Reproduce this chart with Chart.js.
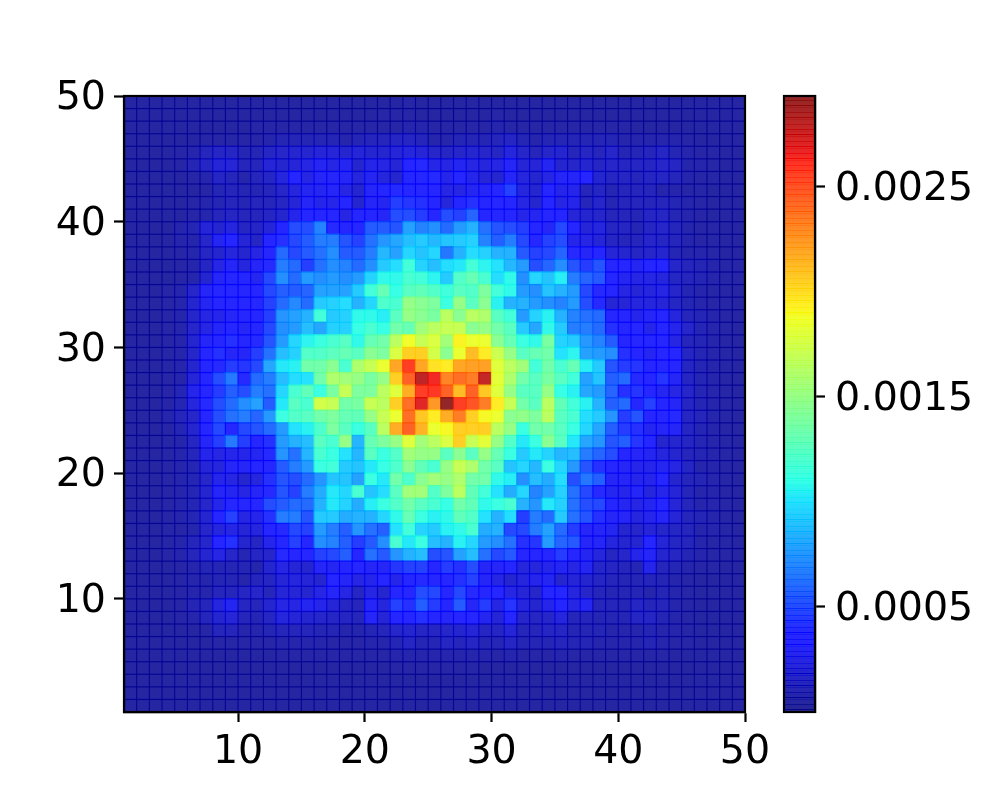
<!DOCTYPE html>
<html>
<head>
<meta charset="utf-8">
<title>Heatmap</title>
<script src="https://cdn.jsdelivr.net/npm/chart.js@4"></script>
<style>
body { margin: 0; background: #fff; }
canvas { position: absolute; left: 0; top: 0; }
</style>
</head>
<body>
<canvas id="heat" width="1000" height="800"></canvas>
<canvas id="bar" width="1000" height="800"></canvas>
<script>
const xTicks = [10, 20, 30, 40, 50];
const yTicks = [10, 20, 30, 40, 50];
const barTicks = [0.0005, 0.0015, 0.0025];
const barRange = [0, 0.00293];
const unit = 0.00001;

// cell values, in units of 1e-5, top row first
const cellRows = [
  [5,5,5,5,5,5,5,5,5,5,5,5,5,5,5,5,5,5,5,5,5,5,6,5,5,5,5,5,5,5,5,5,5,5,5,5,5,5,5,5,5,5,5,5,5,5,5,5,5],
  [5,5,5,5,5,5,5,5,5,5,5,5,5,5,5,5,5,5,5,5,6,6,6,5,5,5,5,5,5,6,5,5,5,5,5,5,5,5,5,5,5,5,5,5,5,5,5,5,5],
  [5,5,5,5,5,5,5,5,5,5,6,6,6,6,6,6,6,6,6,6,6,6,8,8,6,6,6,6,6,8,6,6,6,6,6,6,6,6,6,6,5,5,5,5,5,5,5,5,5],
  [5,5,5,5,5,5,6,6,6,6,6,8,10,10,10,10,10,8,10,12,12,14,14,12,8,8,10,10,10,12,14,10,8,10,10,10,10,10,10,8,8,8,8,8,6,5,5,5,5],
  [5,5,5,5,6,8,12,15,14,10,10,14,16,18,18,20,20,18,20,18,18,20,22,20,16,14,16,18,16,14,22,16,12,16,18,12,14,12,16,10,10,12,14,10,8,6,6,5,5],
  [5,5,5,5,6,10,15,20,20,12,12,20,18,20,24,28,24,28,18,25,24,20,36,38,25,24,28,24,22,24,30,20,20,28,18,16,18,14,16,14,14,14,16,14,8,8,6,5,5],
  [5,5,5,5,5,6,8,15,12,8,12,15,22,32,24,30,30,30,22,28,22,18,32,34,38,26,34,26,20,18,30,22,18,24,30,30,34,18,14,14,12,14,14,12,8,6,6,5,5],
  [5,5,5,5,5,5,6,10,12,10,10,12,16,22,28,28,30,24,18,30,36,38,32,32,36,24,24,28,30,36,46,22,18,34,26,26,12,14,10,12,12,12,8,8,6,6,5,5,5],
  [5,5,5,5,5,6,8,10,12,10,12,12,14,20,30,26,26,32,18,30,28,45,42,40,34,22,32,40,36,34,36,24,18,34,24,26,12,16,10,12,12,12,12,10,8,6,5,5,5],
  [5,5,5,5,5,6,8,12,14,12,12,14,18,26,34,36,34,24,32,32,30,50,50,44,36,50,46,58,36,34,32,26,28,32,32,20,18,16,12,12,10,14,14,10,8,6,5,5,5],
  [5,5,5,5,8,10,20,18,22,14,15,20,36,50,50,68,38,36,36,55,55,52,78,68,72,60,76,84,62,52,50,45,32,30,48,32,20,22,14,14,10,14,16,12,8,6,6,5,5],
  [5,5,5,5,8,8,16,28,34,20,15,32,40,48,55,66,66,52,46,62,74,80,88,92,86,90,92,94,68,56,66,48,32,46,50,26,24,20,14,12,12,16,14,12,8,6,6,5,5],
  [5,5,5,5,6,8,14,18,22,18,24,34,60,48,55,62,72,55,55,66,86,78,96,90,96,64,84,98,94,84,84,54,46,48,58,38,30,32,20,18,14,16,18,10,8,8,6,5,5],
  [5,5,5,5,6,8,14,24,30,22,30,38,66,60,45,62,72,68,60,72,92,98,115,95,88,98,102,116,106,100,86,76,50,58,72,52,44,52,36,34,28,34,34,16,12,10,8,6,6],
  [5,5,5,5,6,8,18,30,34,36,28,48,72,60,76,72,76,72,76,95,108,108,118,115,106,92,122,130,118,98,108,72,96,90,104,66,58,54,32,28,24,24,22,14,12,10,8,6,6],
  [5,5,5,6,8,16,30,36,34,36,34,48,56,55,58,78,78,78,92,115,130,110,125,128,122,114,125,122,140,115,108,76,72,90,84,76,48,38,32,24,20,22,24,16,10,8,6,6,5],
  [5,5,5,6,8,18,28,36,32,32,32,46,60,70,60,92,94,98,84,96,120,118,150,145,140,112,150,125,145,105,84,84,76,72,68,76,50,38,20,20,22,22,20,14,10,8,6,6,5],
  [5,5,5,6,8,16,24,26,30,32,35,45,74,78,84,115,92,94,108,108,104,125,150,145,138,165,145,165,160,125,115,76,95,105,84,68,62,60,32,36,26,30,32,22,12,10,8,6,5],
  [5,5,5,6,8,16,24,30,34,30,36,48,72,76,88,80,94,94,110,118,110,135,130,155,165,170,170,145,150,135,125,92,80,108,92,66,66,60,40,36,34,26,36,26,16,10,8,6,5],
  [5,5,5,6,8,18,30,36,40,36,38,52,76,96,106,112,118,124,108,130,135,165,188,170,178,155,192,185,185,145,130,112,108,138,95,92,75,68,55,36,34,36,34,24,12,10,8,6,5],
  [5,5,5,6,8,16,34,40,30,30,45,62,88,94,122,122,126,130,125,145,140,178,205,205,175,145,185,212,195,172,150,125,130,135,100,106,78,76,72,40,36,28,32,32,14,10,8,6,5],
  [5,5,5,6,8,18,34,38,44,42,48,80,102,105,135,135,145,118,160,170,185,220,258,220,198,195,220,222,222,180,165,155,115,135,118,130,105,92,52,44,42,36,32,34,14,10,8,6,5],
  [5,5,5,6,8,20,36,50,65,38,60,66,88,98,100,135,160,155,150,138,150,205,245,280,265,232,240,235,278,182,160,135,125,138,125,115,78,90,56,60,38,36,42,30,14,10,8,6,5],
  [5,5,5,6,10,26,36,44,56,50,66,62,96,118,128,112,138,170,140,140,165,180,218,258,260,245,212,245,208,180,150,125,125,150,110,105,80,76,58,40,42,34,28,24,16,10,8,6,5],
  [5,5,5,6,10,22,38,50,60,72,78,55,102,125,118,175,170,135,138,170,165,205,240,270,225,293,258,250,235,195,170,135,125,165,128,115,105,84,56,60,34,46,36,30,14,10,8,6,5],
  [5,5,5,8,12,16,34,50,62,66,58,75,112,122,125,135,140,130,128,150,170,185,240,208,195,218,235,205,190,185,145,148,140,165,125,118,98,92,74,44,52,32,34,38,14,12,8,6,5],
  [5,5,5,6,10,18,36,48,34,48,52,60,76,100,105,120,140,125,112,125,165,218,245,215,185,190,205,205,205,165,150,112,135,135,125,112,96,80,56,44,40,28,30,30,14,10,8,6,5],
  [5,5,5,6,8,14,30,45,65,45,34,40,76,84,88,125,118,150,85,130,140,150,180,155,165,178,205,170,182,150,122,102,112,145,125,102,80,74,52,56,42,36,18,18,14,10,8,6,5],
  [5,5,5,6,8,12,26,24,26,26,28,38,74,62,85,118,112,100,85,125,112,122,155,150,150,125,145,125,150,130,112,92,102,95,85,88,66,58,50,36,30,28,22,18,12,10,8,6,5],
  [5,5,5,6,8,10,20,22,30,30,34,34,55,66,76,112,115,92,90,102,110,120,145,128,118,150,170,160,135,125,90,96,86,112,96,75,52,40,32,30,26,26,28,24,14,8,8,6,5],
  [5,5,5,6,8,10,16,26,24,18,22,40,52,50,60,74,90,90,78,112,102,135,120,145,155,150,160,135,135,108,104,72,88,82,98,50,64,56,30,30,26,26,34,18,12,10,8,6,5],
  [5,5,5,6,8,10,18,30,28,24,30,38,52,46,66,82,102,96,118,90,98,125,155,155,122,140,165,128,115,100,82,96,68,78,94,62,48,38,28,26,30,22,26,20,12,8,8,6,5],
  [5,5,5,6,8,10,16,26,34,32,36,50,55,60,60,84,102,95,82,104,112,122,135,125,118,110,135,128,108,112,118,84,74,102,94,62,50,48,32,28,24,28,34,20,12,8,8,6,5],
  [5,5,5,6,8,10,18,34,46,24,26,40,66,66,52,92,92,82,84,84,96,108,130,112,105,108,128,122,100,84,98,44,66,60,92,62,52,40,30,30,22,26,30,20,12,10,8,6,5],
  [5,5,5,6,6,8,16,22,24,20,22,32,38,48,46,76,66,56,74,62,56,100,115,95,92,105,108,118,82,84,48,48,66,78,60,44,30,30,28,18,16,20,16,14,12,8,8,6,5],
  [5,5,5,6,8,12,16,34,40,18,14,26,32,46,36,72,68,56,44,54,72,118,102,112,88,84,105,96,76,72,62,40,42,76,58,54,30,30,22,18,18,32,20,14,12,8,6,6,5],
  [5,5,5,6,8,12,18,24,16,10,14,16,38,32,34,46,48,56,36,62,54,74,84,88,50,52,78,88,62,48,54,32,32,36,44,32,28,22,14,16,26,30,18,14,10,8,6,6,5],
  [5,5,5,5,6,8,10,10,10,10,8,18,24,20,18,30,28,34,32,30,30,42,46,46,34,44,40,50,30,30,34,22,22,26,28,24,28,16,14,12,10,26,12,10,8,6,6,5,5],
  [5,5,5,5,6,8,8,10,10,8,12,14,20,22,20,18,32,30,24,26,34,26,32,38,36,36,40,46,30,24,18,22,26,28,18,20,18,14,12,10,10,12,10,8,6,5,5,5,5],
  [5,5,5,5,6,8,8,12,12,14,16,12,20,20,18,24,30,24,14,24,18,34,36,50,48,34,48,38,32,34,24,20,16,34,32,22,16,12,10,10,10,8,10,8,6,5,5,5,5],
  [5,5,5,5,6,10,12,22,28,14,12,18,24,24,28,26,20,14,12,30,22,46,40,56,44,36,55,30,44,24,42,22,18,26,32,24,28,12,12,10,14,12,12,8,6,5,5,5,5],
  [5,5,5,5,6,8,12,18,20,12,10,14,22,20,18,16,15,14,12,30,20,34,36,40,36,30,32,34,28,20,34,16,14,16,22,12,12,10,10,10,14,14,10,8,6,5,5,5,5],
  [5,5,5,5,5,5,6,12,12,8,8,10,12,12,12,10,10,8,8,10,12,16,18,15,14,16,18,20,14,14,20,12,12,14,14,10,10,10,8,8,8,10,8,8,6,5,5,5,5],
  [5,5,5,5,5,5,5,6,6,6,6,6,8,8,8,8,6,6,6,8,8,10,14,10,10,14,12,14,10,10,14,10,10,10,12,10,10,8,8,8,8,10,8,6,6,5,5,5,5],
  [5,5,5,5,5,5,5,5,5,5,5,5,6,6,6,6,6,6,6,6,6,8,8,8,8,8,8,8,8,6,8,6,6,6,8,6,6,6,6,6,6,6,6,5,5,5,5,5,5],
  [5,5,5,5,5,5,5,5,5,5,5,5,5,5,5,5,5,5,5,5,5,6,6,6,6,6,6,6,5,5,5,5,5,5,5,5,5,5,5,5,5,5,5,5,5,5,5,5,5],
  [5,5,5,5,5,5,5,5,5,5,5,5,5,5,5,5,5,5,5,5,5,5,5,5,5,5,5,5,5,5,5,5,5,5,5,5,5,5,5,5,5,5,5,5,5,5,5,5,5],
  [5,5,5,5,5,5,5,5,5,5,5,5,5,5,5,5,5,5,5,5,5,5,5,5,5,5,5,5,5,5,5,5,5,5,5,5,5,5,5,5,5,5,5,5,5,5,5,5,5],
  [5,5,5,5,5,5,5,5,5,5,5,5,5,5,5,5,5,5,5,5,5,5,5,5,5,5,5,5,5,5,5,5,5,5,5,5,5,5,5,5,5,5,5,5,5,5,5,5,5]
];

const ALPHA = 0.85;
const tickFont = { family: "'DejaVu Sans'", size: 39.5 };

// jet colormap, same breakpoints as matplotlib
const jetR = [[0, 0], [0.35, 0], [0.66, 1], [0.89, 1], [1, 0.5]];
const jetG = [[0, 0], [0.125, 0], [0.375, 1], [0.64, 1], [0.91, 0], [1, 0]];
const jetB = [[0, 0.5], [0.11, 1], [0.34, 1], [0.65, 0], [1, 0]];

function channel(stops, t) {
    for (let i = 1; i < stops.length; i++) {
        if (t <= stops[i][0]) {
            let a = stops[i - 1], b = stops[i];
            return Math.round(255 * (a[1] + (b[1] - a[1]) * (t - a[0]) / (b[0] - a[0])));
        }
    }
    return Math.round(255 * stops[stops.length - 1][1]);
}

function jet(t, alpha) {
    t = Math.min(1, Math.max(0, t));
    return `rgba(${channel(jetR, t)},${channel(jetG, t)},${channel(jetB, t)},${alpha})`;
}

// spines on all four sides
const framePlugin = {
    id: 'frame',
    afterDraw(chart) {
        let a = chart.chartArea, ctx = chart.ctx;
        ctx.save();
        ctx.strokeStyle = '#000';
        ctx.lineWidth = 2.2;
        ctx.strokeRect(a.left, a.top, a.right - a.left, a.bottom - a.top);
        ctx.restore();
    }
};

function axisGrid() {
    return { drawOnChartArea: false, drawTicks: true, tickLength: 10, tickWidth: 2.2, tickColor: '#000' };
}

// HEATMAP
let points = [], colors = [];
cellRows.forEach((row, r) => {
    row.forEach((v, c) => {
        points.push({ x: c + 1.5, y: 49.5 - r });
        colors.push(jet(v * unit / barRange[1], ALPHA));
    });
});

new Chart(document.getElementById('heat').getContext('2d'), {
    type: 'scatter',
    data: {
        datasets: [{
            data: points,
            pointStyle: 'rect',
            pointRadius: 9.8,
            pointBorderWidth: 0,
            pointBackgroundColor: colors
        }]
    },
    options: {
        responsive: false,
        animation: false,
        events: [],
        layout: { padding: { left: 0, top: 96, right: 255, bottom: 0 } },
        plugins: { legend: { display: false }, tooltip: { enabled: false } },
        scales: {
            x: {
                type: 'linear', min: 1, max: 50,
                afterBuildTicks: s => { s.ticks = xTicks.map(v => ({ value: v })); },
                afterFit: s => { s.height = 88; },
                grid: axisGrid(),
                border: { color: '#000', width: 2.2 },
                ticks: { color: '#000', font: tickFont, padding: 7, maxRotation: 0, autoSkip: false }
            },
            y: {
                type: 'linear', min: 1, max: 50,
                afterBuildTicks: s => { s.ticks = yTicks.map(v => ({ value: v })); },
                afterFit: s => { s.width = 124; },
                grid: axisGrid(),
                border: { color: '#000', width: 2.2 },
                ticks: { color: '#000', font: tickFont, padding: 8, labelOffset: 3, autoSkip: false }
            }
        }
    },
    plugins: [framePlugin]
});

// COLORBAR
function barFill(ctx) {
    let area = ctx.chart.chartArea;
    if (!area) return 'transparent';
    let g = ctx.chart.ctx.createLinearGradient(0, area.bottom, 0, area.top);
    // 256 colormap levels, with the darker seam where neighbouring levels overlap
    for (let i = 0; i < 256; i++) {
        let t = i / 255;
        g.addColorStop(i / 256, jet(t, 1));
        g.addColorStop((i + 0.3) / 256, jet(t, ALPHA));
        g.addColorStop((i + 1) / 256, jet(t, ALPHA));
    }
    return g;
}

new Chart(document.getElementById('bar').getContext('2d'), {
    type: 'bar',
    data: {
        labels: [''],
        datasets: [{
            data: [barRange],
            backgroundColor: barFill,
            barPercentage: 1,
            categoryPercentage: 1,
            borderWidth: 0
        }]
    },
    options: {
        responsive: false,
        animation: false,
        events: [],
        layout: { padding: { left: 784, top: 96, right: 0, bottom: 88 } },
        plugins: { legend: { display: false }, tooltip: { enabled: false } },
        scales: {
            x: { display: false },
            y: {
                type: 'linear', position: 'right', min: barRange[0], max: barRange[1],
                afterBuildTicks: s => { s.ticks = barTicks.map(v => ({ value: v })); },
                afterFit: s => { s.width = 185; },
                grid: axisGrid(),
                border: { color: '#000', width: 2.2 },
                ticks: { color: '#000', font: tickFont, padding: 10, labelOffset: 3, autoSkip: false, callback: v => v.toFixed(4) }
            }
        }
    },
    plugins: [framePlugin]
});
</script>
</body>
</html>
